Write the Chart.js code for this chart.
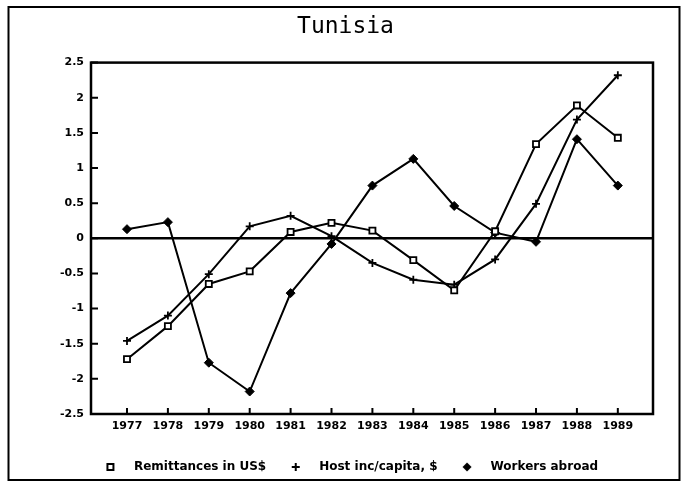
<!DOCTYPE html>
<html>
<head>
<meta charset="utf-8">
<script src="https://cdn.jsdelivr.net/npm/chart.js@4/dist/chart.umd.min.js"></script>
<style>
html,body{margin:0;padding:0;background:#fff;}
#wrap{width:691px;height:483px;}
canvas{display:block;}
</style>
</head>
<body>
<div id="wrap"><canvas id="c" width="691" height="483"></canvas></div>
<script>
// ---- data ----
const titleText = 'Tunisia';
const years = [1977, 1978, 1979, 1980, 1981, 1982, 1983, 1984, 1985, 1986, 1987, 1988, 1989];
const remittances = [-1.72, -1.25, -0.65, -0.47, 0.09, 0.22, 0.11, -0.31, -0.74, 0.10, 1.34, 1.89, 1.43];
const hostIncome  = [-1.46, -1.10, -0.51, 0.17, 0.32, 0.03, -0.35, -0.59, -0.66, -0.30, 0.49, 1.69, 2.32];
const workersAbroad = [0.13, 0.23, -1.77, -2.18, -0.78, -0.08, 0.75, 1.13, 0.46, 0.08, -0.05, 1.41, 0.75];
const seriesNames = ['Remittances in US$', 'Host inc/capita, $', 'Workers abroad'];
const yTickValues = [-2.5, -2, -1.5, -1, -0.5, 0, 0.5, 1, 1.5, 2, 2.5];

// ---- legend icons ----
function makeIcon(kind) {
  const c = document.createElement('canvas');
  c.width = 10; c.height = 10;
  const g = c.getContext('2d');
  g.strokeStyle = '#000'; g.fillStyle = '#000'; g.lineWidth = 2;
  if (kind === 'square') {
    g.strokeRect(2, 2, 6, 6);
  } else if (kind === 'plus') {
    g.beginPath(); g.moveTo(5, 1); g.lineTo(5, 9); g.moveTo(1, 5); g.lineTo(9, 5); g.stroke();
  } else {
    g.beginPath(); g.moveTo(5, 0.5); g.lineTo(9.5, 5); g.lineTo(5, 9.5); g.lineTo(0.5, 5); g.closePath(); g.fill();
  }
  return c;
}
const legendIcons = [makeIcon('square'), makeIcon('plus'), makeIcon('diamond')];

const toPoints = arr => years.map((y, i) => ({x: y, y: arr[i]}));

const tickFont = {family: 'DejaVu Sans', size: 11, weight: 'bold'};

const framePlugin = {
  id: 'framePlugin',
  afterDraw(chart) {
    const ctx = chart.ctx;
    const a = chart.chartArea;
    ctx.save();
    ctx.strokeStyle = '#000';
    // outer frame
    ctx.lineWidth = 2;
    ctx.strokeRect(8.5, 7, 671, 473);
    // plot border
    ctx.lineWidth = 2.5;
    ctx.strokeRect(a.left, a.top, a.right - a.left, a.bottom - a.top);
    // inward ticks
    ctx.lineWidth = 2;
    const ys = chart.scales.y, xs = chart.scales.x;
    ctx.beginPath();
    yTickValues.forEach(v => {
      const py = ys.getPixelForValue(v);
      ctx.moveTo(a.left, py); ctx.lineTo(a.left + 7, py);
    });
    years.forEach(v => {
      const px = xs.getPixelForValue(v);
      ctx.moveTo(px, a.bottom); ctx.lineTo(px, a.bottom - 6);
    });
    ctx.stroke();
    ctx.restore();
  }
};

new Chart(document.getElementById('c'), {
  type: 'line',
  data: {
    datasets: [
      {
        label: seriesNames[0], data: toPoints(remittances),
        borderColor: '#000', borderWidth: 2, fill: false, tension: 0,
        pointStyle: 'rect', pointRadius: 4.3, pointBackgroundColor: '#fff',
        pointBorderColor: '#000', pointBorderWidth: 1.8
      },
      {
        label: seriesNames[1], data: toPoints(hostIncome),
        borderColor: '#000', borderWidth: 2, fill: false, tension: 0,
        pointStyle: 'cross', pointRadius: 4, pointBackgroundColor: '#000',
        pointBorderColor: '#000', pointBorderWidth: 1.8
      },
      {
        label: seriesNames[2], data: toPoints(workersAbroad),
        borderColor: '#000', borderWidth: 2, fill: false, tension: 0,
        pointStyle: 'rectRot', pointRadius: 4.5, pointBackgroundColor: '#000',
        pointBorderColor: '#000', pointBorderWidth: 1
      }
    ]
  },
  options: {
    responsive: false,
    animation: false,
    devicePixelRatio: 1,
    layout: {padding: {left: 0, right: 0, top: 0, bottom: 0}},
    plugins: {
      title: {
        display: true, text: titleText, color: '#000',
        font: {family: 'DejaVu Sans Mono', size: 23, weight: 'normal'},
        padding: {top: 13, bottom: 22}
      },
      legend: {
        position: 'bottom',
        labels: {
          color: '#000',
          font: {family: 'DejaVu Sans', size: 12, weight: 'bold'},
          usePointStyle: true,
          pointStyleWidth: 35,
          boxHeight: 11,
          padding: 12,
          generateLabels(chart) {
            const items = Chart.defaults.plugins.legend.labels.generateLabels(chart);
            items.forEach((it, i) => { it.pointStyle = legendIcons[i]; });
            return items;
          }
        }
      },
      tooltip: {enabled: false}
    },
    scales: {
      x: {
        type: 'linear',
        min: 1976.12, max: 1989.86,
        grid: {display: false, drawTicks: false},
        border: {display: false},
        afterBuildTicks(axis) { axis.ticks = years.map(v => ({value: v})); },
        afterFit(axis) { axis.height = 35; },
        ticks: {
          autoSkip: false, maxRotation: 0, color: '#000', font: tickFont, padding: 6,
          callback: v => String(v)
        }
      },
      y: {
        type: 'linear',
        min: -2.5, max: 2.5,
        afterBuildTicks(axis) { axis.ticks = yTickValues.map(v => ({value: v})); },
        afterFit(axis) { axis.width = 91; },
        border: {display: false},
        grid: {
          drawTicks: false,
          color: c => (c.tick && c.tick.value === 0) ? '#000' : 'rgba(0,0,0,0)',
          lineWidth: c => (c.tick && c.tick.value === 0) ? 2.5 : 0
        },
        ticks: {color: '#000', font: tickFont, padding: 7, callback: v => String(v)}
      },
      yRight: {
        type: 'linear', position: 'right', display: true,
        grid: {display: false, drawTicks: false},
        border: {display: false},
        ticks: {display: false},
        afterFit(axis) { axis.width = 38; }
      }
    }
  },
  plugins: [framePlugin]
});
</script>
</body>
</html>
